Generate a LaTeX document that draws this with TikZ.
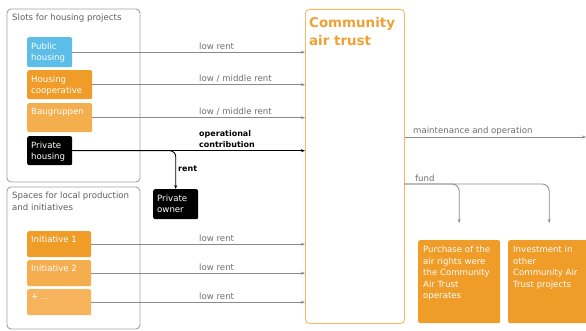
\documentclass[tikz,border=0pt]{standalone}
\usepackage{fontspec}
\setmainfont{DejaVu Sans}
\usetikzlibrary{arrows.meta,calc}
\definecolor{cblue}{HTML}{5BBDE8}
\definecolor{corange}{HTML}{F09C28}
\definecolor{clight}{HTML}{F5AE4E}
\definecolor{clighter}{HTML}{F6B35C}
\definecolor{ctrust}{HTML}{F5B760}
\definecolor{ctitle}{HTML}{F0A034}
\definecolor{cgrey}{HTML}{8A8A8A}
\definecolor{ctext}{HTML}{6E6E6E}
\tikzset{
  panel/.style={draw=cgrey!80, line width=0.9pt, rounded corners=4pt},
  box/.style={rounded corners=2pt, inner sep=0pt, anchor=north west},
  boxtext/.style={anchor=north west, text=white, font=\fontsize{8.6}{11.5}\selectfont, align=left, inner sep=0pt},
  lbl/.style={anchor=base west, text=ctext, font=\fontsize{8.6}{10}\selectfont, inner sep=0pt},
  blbl/.style={anchor=base west, text=black, font=\fontsize{8}{11}\selectfont\bfseries, inner sep=0pt, align=left},
  flow/.style={draw=cgrey, line width=0.8pt, -{Stealth[length=4pt,width=3pt]}},
  titletext/.style={anchor=north west, text=ctext!85!black, font=\fontsize{8.6}{12}\selectfont, align=left, inner sep=0pt},
}
\begin{document}
\begin{tikzpicture}[x=1pt,y=-1pt]
\useasboundingbox (0,0) rectangle (586,331);
% panels
\draw[panel] (7,9) rectangle (140,182);
\draw[panel] (7,187) rectangle (140,329);
\node[titletext] (t1) at (12,14) {Slots for housing projects};
\node[titletext] (t2) at (12,192) {Spaces for local production\\and initiatives};
% trust
\node[box, draw=ctrust, line width=0.9pt, rounded corners=4pt, minimum width=99pt, minimum height=314pt] (trust) at (305,9) {};
\node[anchor=north west, inner sep=0pt, text=ctitle, align=left, font=\fontsize{13.4}{18}\selectfont\bfseries] (trustt) at (309,17.5) {Community\\air trust};
% boxes
\node[box, fill=cblue, minimum width=45pt, minimum height=30pt] (pub) at (27,37) {};
\node[boxtext] (pubt) at ($(pub.north west)+(4,5.5)$) {Public\\housing};
\node[box, fill=corange, minimum width=65pt, minimum height=29pt] (coop) at (27,70) {};
\node[boxtext] (coopt) at ($(coop.north west)+(4,5.5)$) {Housing\\cooperative};
\node[box, fill=clight, minimum width=65pt, minimum height=29pt] (baug) at (27,103) {};
\node[boxtext] (baugt) at ($(baug.north west)+(4,5.5)$) {Baugruppen};
\node[box, fill=black, minimum width=45pt, minimum height=29pt] (priv) at (27,136) {};
\node[boxtext] (privt) at ($(priv.north west)+(4,5.5)$) {Private\\housing};
\node[box, fill=black, minimum width=45pt, minimum height=30pt] (owner) at (153,189) {};
\node[boxtext] (ownert) at ($(owner.north west)+(4,5.5)$) {Private\\owner};
\node[box, fill=corange, minimum width=64pt, minimum height=26pt] (ini1) at (27,231) {};
\node[boxtext] (ini1t) at ($(ini1.north west)+(4,5)$) {Initiative 1};
\node[box, fill=clight, minimum width=64pt, minimum height=26pt] (ini2) at (27,260) {};
\node[boxtext] (ini2t) at ($(ini2.north west)+(4,5)$) {Initiative 2};
\node[box, fill=clighter, minimum width=64pt, minimum height=26pt] (plus) at (27,289) {};
\node[boxtext] (plust) at ($(plus.north west)+(4,5)$) {+ ...};
\node[box, fill=corange, minimum width=82pt, minimum height=83pt] (purch) at (418,240) {};
\node[boxtext] (purcht) at ($(purch.north west)+(5,6)$) {Purchase of the\\air rights were\\the Community\\Air Trust\\operates};
\node[box, fill=corange, minimum width=82pt, minimum height=83pt] (inv) at (508,240) {};
\node[boxtext] (invt) at ($(inv.north west)+(5,6)$) {Investment in\\other\\Community Air\\Trust projects};
% flows into trust
\draw[flow] (pub.east) -- (pub.east -| trust.west);
\draw[flow] (coop.east) -- (coop.east -| trust.west);
\draw[flow] (baug.east) -- (baug.east -| trust.west);
\draw[flow, draw=black, line width=1pt] (priv.east) -- (priv.east -| trust.west);
\draw[flow, draw=black, line width=0.9pt, rounded corners=6pt] (priv.east) -| (owner.north);
\draw[flow] (ini1.east) -- (ini1.east -| trust.west);
\draw[flow] (ini2.east) -- (ini2.east -| trust.west);
\draw[flow] (plus.east) -- (plus.east -| trust.west);
% labels
\node[lbl] (l1) at (199,49.5) {low rent};
\node[lbl] (l2) at (199,82) {low / middle rent};
\node[lbl] (l3) at (199,115) {low / middle rent};
\node[blbl] (l4) at (199,148) {operational\\contribution};
\node[blbl] (l5) at (178,172) {rent};
\node[lbl] (l6) at (199,241.5) {low rent};
\node[lbl] (l7) at (199,270.5) {low rent};
\node[lbl] (l8) at (199,299.5) {low rent};
% outputs
\coordinate (mend) at (586,137);
\draw[flow] (trust.east |- mend) -- (mend);
\node[lbl] (l9) at (413,134) {maintenance and operation};
\coordinate (fy) at (404,184);
\draw[flow, rounded corners=7pt] (fy) -| ($(purch.north)+(0,-17)$);
\draw[flow, rounded corners=7pt] (fy) -| ($(inv.north)+(0,-17)$);
\node[lbl] (l10) at (415,182) {fund};
\end{tikzpicture}
\end{document}
